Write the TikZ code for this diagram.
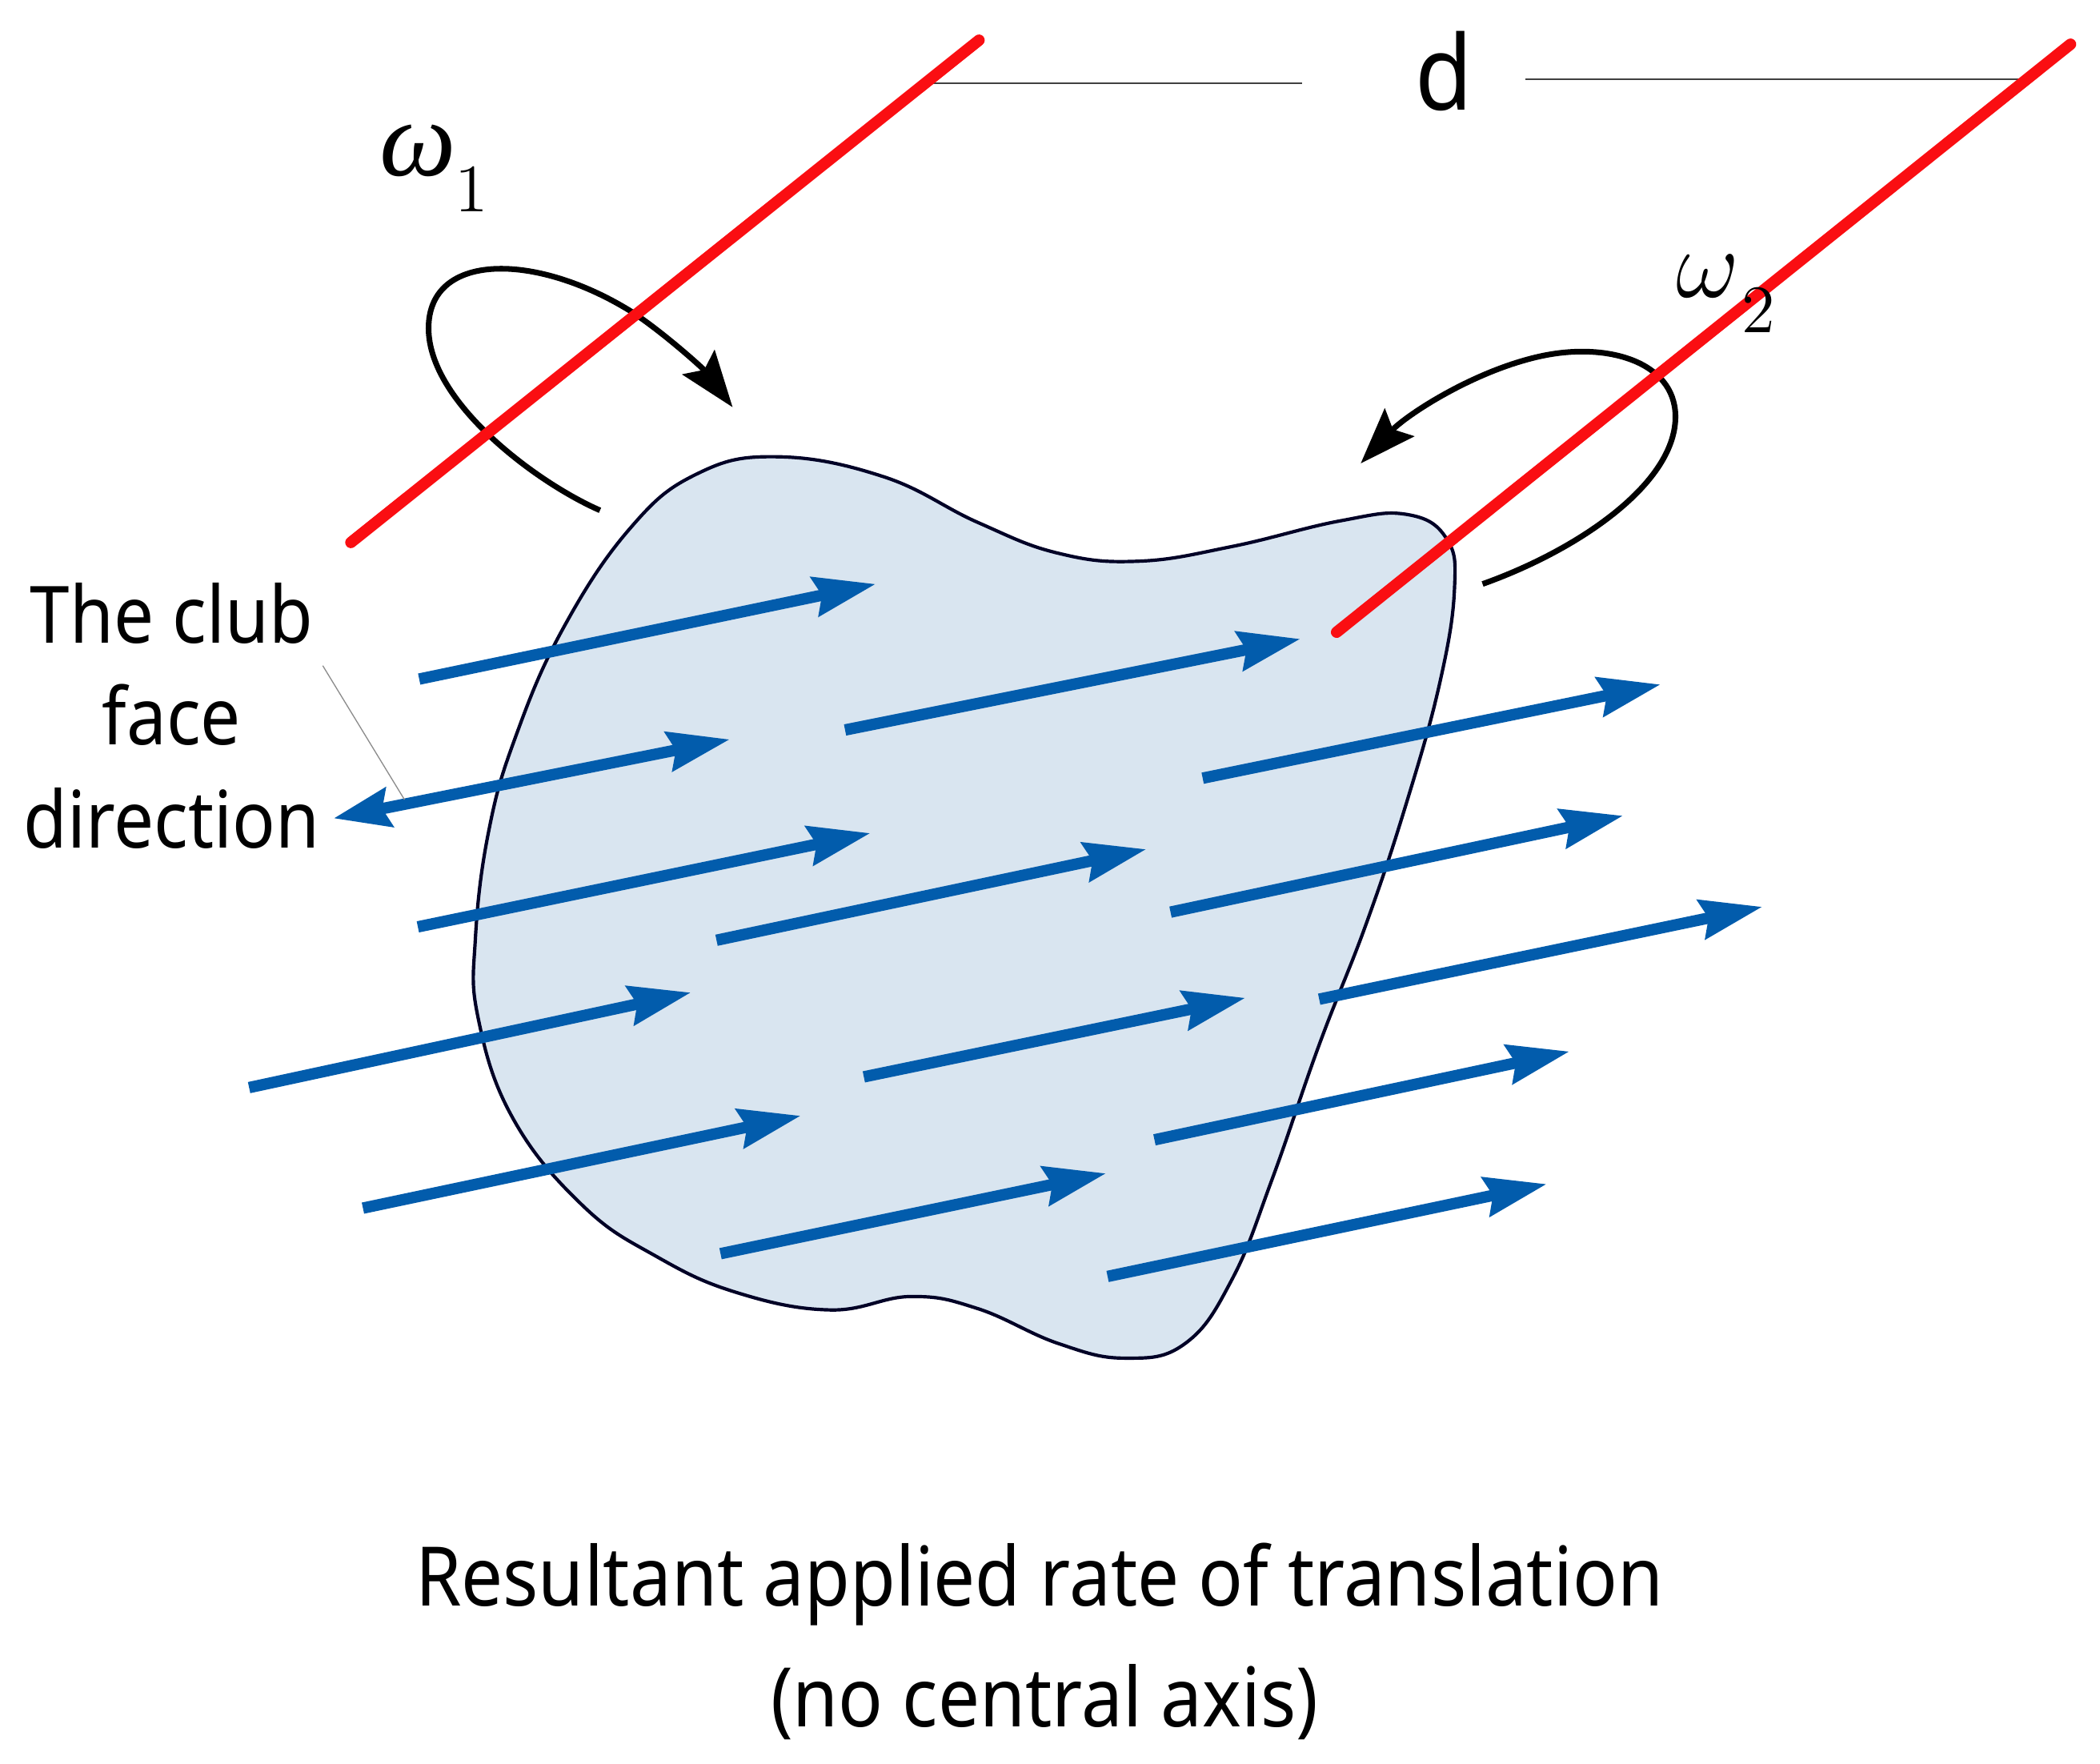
\documentclass[tikz,border=0pt]{standalone}
\usepackage{fontspec}
\setmainfont[FakeStretch=0.9]{Noto Sans}
\newfontfamily\greekserif{Liberation Serif}
\usetikzlibrary{arrows.meta}
\definecolor{blobfill}{RGB}{217,229,240}
\definecolor{bluearrow}{RGB}{2,92,172}
\definecolor{axisred}{RGB}{250,14,18}
\tikzset{
  xy/.style={x=0.01cm,y=-0.01cm},
  flow/.style={draw=bluearrow,line width=0.085cm,-{Stealth[length=0.46cm,width=0.29cm,inset=0.05cm]}},
  flowboth/.style={draw=bluearrow,line width=0.085cm,{Stealth[length=0.42cm,width=0.29cm,inset=0.05cm]}-{Stealth[length=0.46cm,width=0.29cm,inset=0.05cm]}},
  axisline/.style={draw=axisred,line width=0.085cm,line cap=round},
  spin/.style={draw=black,line width=0.042cm,-{Stealth[length=0.42cm,width=0.3cm,inset=0.07cm]}},
  thinrule/.style={draw=black!75,line width=0.014cm},
  leader/.style={draw=black!45,line width=0.008cm},
  label/.style={anchor=base,inner sep=0pt,font=\fontsize{16.8pt}{18pt}\selectfont},
  caption/.style={anchor=base,inner sep=0pt,font=\fontsize{17.45pt}{20pt}\selectfont},
  omegaheavy/.style={anchor=base,inner sep=0pt,font=\fontsize{23pt}{26pt}\selectfont\greekserif\itshape},
  omegalight/.style={anchor=base,inner sep=0pt,font=\fontsize{22pt}{24pt}\selectfont\rmfamily},
  idx/.style={anchor=base,inner sep=0pt,font=\fontsize{14.5pt}{16pt}\selectfont\rmfamily},
}
\begin{document}
\begin{tikzpicture}[xy]
\useasboundingbox (0,0) rectangle (1568,1317);
% club face
\draw[fill=blobfill,draw=black!85!blue,line width=0.025cm] plot[smooth cycle,tension=0.7] coordinates {
 (580,341) (660,356) (730,390) (790,413) (850,419) (920,408) (1000,389) (1050,384) (1080,402) (1086,440)
 (1075,510) (1050,600) (1020,690) (985,780) (950,880) (920,955) (885,1003) (840,1014) (790,1003) (730,977)
 (680,968) (620,978) (550,965) (490,938) (435,900) (383,835) (357,760) (355,700) (365,620) (385,550)
 (420,470) (470,395) (520,354)};
% spin arrows
\coordinate (s1a) at (448,381); \coordinate (s1b) at (547,304);
\coordinate (s2a) at (1107,436); \coordinate (s2b) at (1016,346);
\draw[spin] (s1a) .. controls (400,360) and (320,300) .. (320,245) .. controls (320,188) and (400,188) .. (472,233) .. controls (495,248) and (525,275) .. (s1b);
\draw[spin] (s2a) .. controls (1180,410) and (1252,360) .. (1251,310) .. controls (1250,270) and (1200,255) .. (1150,266) .. controls (1100,277) and (1050,310) .. (s2b);
% rules
\coordinate (d1a) at (690,62); \coordinate (d1b) at (972,62);
\coordinate (d2a) at (1139,59); \coordinate (d2b) at (1510,59);
\draw[thinrule] (d1a) -- (d1b);
\draw[thinrule] (d2a) -- (d2b);
% flow arrows
\foreach \ax/\ay/\bx/\by in {
 313/507/654/436, 631/545/971/477, 898/581/1240/511, 312/692/650/622, 535/702/856/634,
 874/681/1212/609, 985/746/1316/677, 186/812/516/741, 645/804/930/745, 271/902/598/833,
 862/851/1172/785, 538/936/826/876, 827/953/1155/884}
 \draw[flow] (\ax,\ay) -- (\bx,\by);
\coordinate (fa) at (249,611); \coordinate (fb) at (545,552);
\draw[flowboth] (fa) -- (fb);
\coordinate (la) at (241,497); \coordinate (lb) at (302,597);
\draw[leader] (la) -- (lb);
% axes
\coordinate (r1a) at (262,405); \coordinate (r1b) at (731,30);
\coordinate (r2a) at (998,472); \coordinate (r2b) at (1546,33);
\draw[axisline] (r1a) -- (r1b);
\draw[axisline] (r2a) -- (r2b);
% text
\node[anchor=base,inner sep=0pt,font=\fontsize{22pt}{24pt}\selectfont] (d) at (1078,82) {d};
\node[omegaheavy] (w1) at (312,131) {ω};
\node[idx] (w1s) at (352,158) {$1$};
\node[omegalight] (w2) at (1275,222) {$\omega$};
\node[idx] (w2s) at (1313,248) {$2$};
\node[label] (t1) at (128,480) {The club};
\node[label] (t2) at (128,556) {face};
\node[label] (t3) at (128,633) {direction};
\node[caption] (c1) at (776,1199) {Resultant applied rate of translation};
\node[caption] (c2) at (780,1289) {(no central axis)};
\end{tikzpicture}
\end{document}
